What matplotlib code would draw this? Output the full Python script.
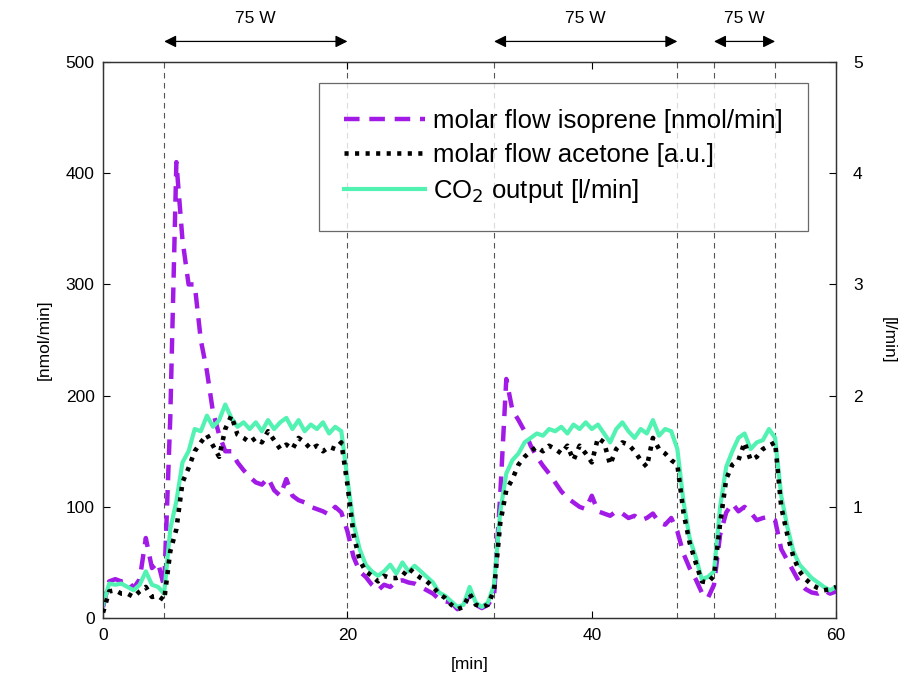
import numpy as np
import matplotlib
matplotlib.use("Agg")
import matplotlib.pyplot as plt

plt.rcParams['font.family'] = ['Liberation Sans', 'DejaVu Sans']

time_min = np.arange(0, 60.01, 0.5)

isoprene = [10, 33, 35, 33, 34, 27, 35, 72, 45, 50, 28,
            180, 410, 340, 300, 300, 250, 222, 185, 165, 150,
            150, 140, 133, 127, 122, 120, 126, 115, 110, 125,
            110, 106, 104, 100, 98, 96, 93, 100, 95, 78,
            55, 42, 37, 30, 25, 30, 28, 33, 34, 32,
            31, 28, 25, 22, 17, 15, 14, 8, 10, 22,
            12, 9, 12, 20, 110, 215, 187, 178, 168, 155,
            145, 137, 130, 122, 114, 108, 104, 100, 98, 110,
            96, 94, 92, 96, 94, 90, 92, 88, 90, 94,
            86, 84, 90, 78, 58, 45, 35, 23, 18, 30,
            75, 95, 103, 96, 100, 95, 88, 90, 91, 88,
            62, 52, 42, 32, 26, 23, 22, 25, 22, 24]

acetone = [0.05, 0.24, 0.25, 0.22, 0.22, 0.19, 0.24, 0.28, 0.19, 0.20, 0.16,
           0.60, 0.80, 1.22, 1.35, 1.50, 1.58, 1.65, 1.55, 1.45, 1.70,
           1.82, 1.65, 1.62, 1.58, 1.62, 1.58, 1.68, 1.60, 1.52, 1.56,
           1.52, 1.62, 1.58, 1.52, 1.55, 1.50, 1.54, 1.52, 1.58, 1.20,
           0.75, 0.52, 0.42, 0.38, 0.33, 0.38, 0.36, 0.36, 0.38, 0.45,
           0.40, 0.36, 0.33, 0.28, 0.22, 0.18, 0.12, 0.08, 0.10, 0.22,
           0.12, 0.10, 0.12, 0.25, 0.85, 1.15, 1.25, 1.38, 1.45, 1.50,
           1.54, 1.50, 1.55, 1.52, 1.48, 1.55, 1.42, 1.55, 1.48, 1.40,
           1.62, 1.58, 1.38, 1.52, 1.58, 1.56, 1.50, 1.42, 1.36, 1.62,
           1.52, 1.48, 1.42, 1.38, 0.95, 0.68, 0.50, 0.33, 0.32, 0.38,
           0.85, 1.25, 1.38, 1.42, 1.58, 1.42, 1.45, 1.52, 1.55, 1.58,
           1.00, 0.75, 0.55, 0.42, 0.35, 0.30, 0.27, 0.25, 0.26, 0.28]

co2 = [0.12, 0.31, 0.30, 0.31, 0.28, 0.25, 0.30, 0.42, 0.30, 0.28, 0.22,
       0.80, 1.05, 1.40, 1.50, 1.70, 1.68, 1.82, 1.72, 1.78, 1.92,
       1.80, 1.72, 1.76, 1.70, 1.76, 1.68, 1.78, 1.70, 1.76, 1.80,
       1.70, 1.78, 1.68, 1.74, 1.70, 1.76, 1.66, 1.72, 1.68, 1.25,
       0.85, 0.62, 0.48, 0.42, 0.38, 0.42, 0.48, 0.40, 0.50, 0.42,
       0.47, 0.42, 0.37, 0.32, 0.23, 0.20, 0.15, 0.10, 0.12, 0.28,
       0.14, 0.10, 0.14, 0.30, 0.95, 1.30, 1.42, 1.48, 1.58, 1.62,
       1.66, 1.64, 1.70, 1.68, 1.72, 1.66, 1.74, 1.70, 1.76, 1.70,
       1.74, 1.66, 1.58, 1.70, 1.76, 1.68, 1.62, 1.70, 1.66, 1.78,
       1.64, 1.70, 1.68, 1.52, 1.05, 0.72, 0.55, 0.35, 0.37, 0.42,
       1.00, 1.36, 1.50, 1.62, 1.66, 1.52, 1.58, 1.60, 1.70, 1.62,
       1.10, 0.82, 0.60, 0.48, 0.42, 0.36, 0.32, 0.28, 0.25, 0.28]

event_times = [5, 20, 32, 47, 50, 55]
load_intervals = [(5, 20), (32, 47), (50, 55)]
load_label = "75 W"

left_ticks = [0, 100, 200, 300, 400, 500]
right_ticks = [1, 2, 3, 4, 5]
x_ticks = [0, 20, 40, 60]

purple = '#A21AE6'
green = '#52F2B2'

fig = plt.figure(figsize=(9.04, 6.86), dpi=100)
ax = fig.add_axes([0.114, 0.099, 0.811, 0.8106])
ax2 = ax.twinx()

ax.set_xlim(0, 60)
ax.set_ylim(0, 500)
ax2.set_ylim(0, 5)

for t in event_times:
    ax.axvline(t, color='#555555', lw=0.8, ls=(0, (5, 4)), zorder=1)

l1, = ax.plot(time_min, isoprene, color=purple, lw=3.2, ls=(0, (3.5, 2.2)),
              zorder=3, label='molar flow isoprene [nmol/min]')
l2, = ax2.plot(time_min, acetone, color='black', lw=3.3, ls=(0, (0.9, 1.4)),
               zorder=3, label='molar flow acetone [a.u.]')
l3, = ax2.plot(time_min, co2, color=green, lw=3.0, ls='-', zorder=2,
               label='CO$_2$ output [l/min]')

ax.set_xticks(x_ticks)
ax.set_yticks(left_ticks)
ax2.set_yticks(right_ticks)
ax.tick_params(axis='both', direction='in', length=5, labelsize=12.5, top=True, width=0.8)
ax.tick_params(axis='x', pad=7)
ax.tick_params(axis='y', pad=6)
ax2.tick_params(axis='y', direction='in', length=5, labelsize=12.5, width=0.8, pad=12)
for a in (ax, ax2):
    for s in a.spines.values():
        s.set_color('#333333')
        s.set_linewidth(0.9)

ax.set_xlabel('[min]', fontsize=12.5, labelpad=10)
ax.set_ylabel('[nmol/min]', fontsize=12.5, labelpad=10)
ax2.set_ylabel('[l/min]', fontsize=12.5, rotation=-90, labelpad=24)

leg = ax2.legend(handles=[l1, l2, l3], loc='upper right',
                 bbox_to_anchor=(0.962, 0.962), fontsize=18.5, frameon=True,
                 fancybox=False, edgecolor='#444444', handlelength=3.15,
                 borderpad=1.0, labelspacing=0.4, handletextpad=0.3,
                 borderaxespad=0)
leg.get_frame().set_linewidth(0.9)

for (a, b) in load_intervals:
    ax.annotate('', xy=(a, 1.037), xytext=(b, 1.037), xycoords=('data', 'axes fraction'),
                textcoords=('data', 'axes fraction'), annotation_clip=False,
                arrowprops=dict(arrowstyle='<|-|>', color='black', lw=0.9,
                                mutation_scale=18, shrinkA=0, shrinkB=0))
    ax.text((a + b) / 2, 1.078, load_label, transform=ax.get_xaxis_transform(),
            ha='center', va='center', fontsize=12.5)

fig.savefig('out.png', dpi=100)
